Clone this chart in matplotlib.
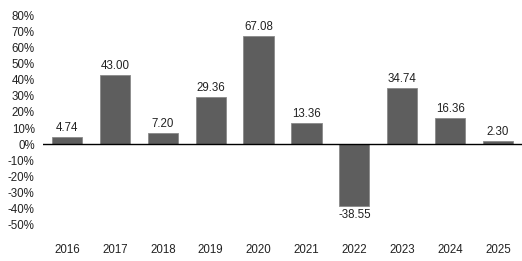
import matplotlib.pyplot as plt
import numpy as np

years = ["2016", "2017", "2018", "2019", "2020", "2021", "2022", "2023", "2024", "2025"]
returns = [4.74, 43.00, 7.20, 29.36, 67.08, 13.36, -38.55, 34.74, 16.36, 2.30]
yticks = list(range(-50, 81, 10))

plt.rcParams['font.family'] = ['Liberation Sans', 'DejaVu Sans']

fig = plt.figure(figsize=(5.22, 2.61), dpi=100)
ax = fig.add_axes([0.0824, 0.138, 0.9176, 0.8045])

x = np.arange(len(years))
bars = ax.bar(x, returns, width=0.63, color='#5e5e5e', edgecolor='#8a8a8a', linewidth=0.6)

for xi, v in zip(x, returns):
    if v >= 0:
        ax.annotate(f"{v:.2f}", (xi, v), xytext=(0, 2), textcoords='offset points',
                    ha='center', va='bottom', fontsize=8.3, color='#222222')
    else:
        ax.annotate(f"{v:.2f}", (xi, v), xytext=(0, -2), textcoords='offset points',
                    ha='center', va='top', fontsize=8.3, color='#222222')

ax.axhline(0, color='black', linewidth=1.0)
ax.set_xlim(-0.5, len(years) - 0.5)
ax.set_ylim(-50, 80)
ax.set_yticks(yticks)
ax.set_yticklabels([f"{t}%" for t in yticks])
ax.set_xticks(x)
ax.set_xticklabels(years)
ax.tick_params(axis='both', length=0, labelsize=8.3, colors='#222222')
ax.tick_params(axis='x', pad=14)
ax.tick_params(axis='y', pad=6)
for s in ax.spines.values():
    s.set_visible(False)

plt.savefig("out.png", dpi=100)
